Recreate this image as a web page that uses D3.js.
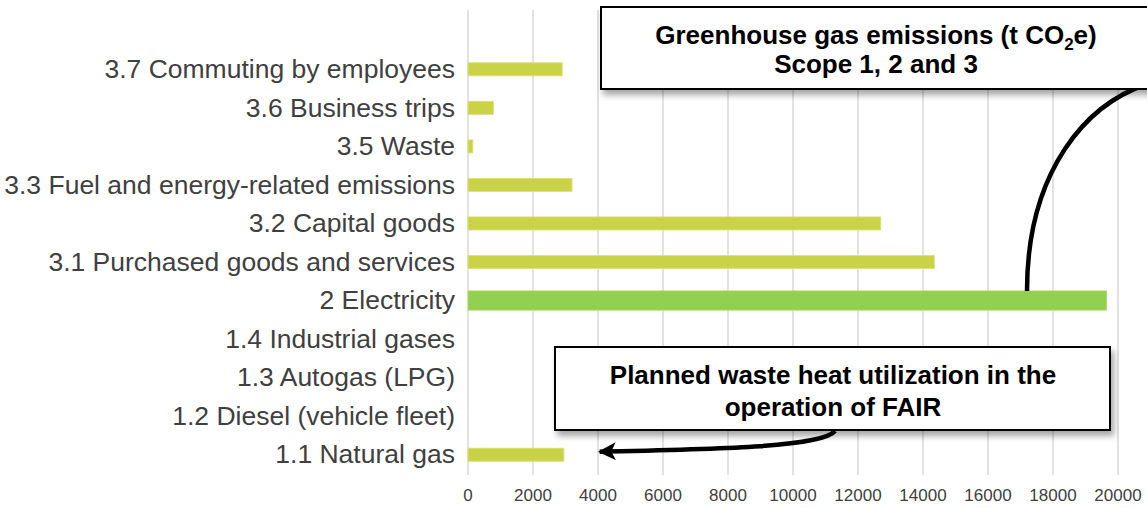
<!DOCTYPE html>
<html>
<head>
<meta charset="utf-8">
<script src="https://cdn.jsdelivr.net/npm/d3@7"></script>
<style>
  html, body { margin: 0; padding: 0; background: #fff; }
  svg { display: block; font-family: "Liberation Sans", Arial, sans-serif; }
</style>
</head>
<body>
<svg id="chart" width="1147" height="508"></svg>
<script>
// categories top to bottom, values in t CO2e
var categories = [
  '3.7 Commuting by employees',
  '3.6 Business trips',
  '3.5 Waste',
  '3.3 Fuel and energy-related emissions',
  '3.2 Capital goods',
  '3.1 Purchased goods and services',
  '2 Electricity',
  '1.4 Industrial gases',
  '1.3 Autogas (LPG)',
  '1.2 Diesel (vehicle fleet)',
  '1.1 Natural gas'
];
var emissions = [2900, 780, 150, 3200, 12700, 14350, 19650, 0, 0, 0, 2950];
var highlighted = ['2 Electricity'];
var xTicks = [0, 2000, 4000, 6000, 8000, 10000, 12000, 14000, 16000, 18000, 20000];

var svg = d3.select('#chart');

var x = d3.scaleLinear().domain([0, 20000]).range([468, 1118]);
var y = d3.scaleBand().domain(categories).range([50, 474])
  .paddingInner(0.5).paddingOuter(0.25);

var defs = svg.append('defs');
var shadow = defs.append('filter').attr('id', 'shadow')
  .attr('x', '-10%').attr('y', '-20%').attr('width', '130%').attr('height', '160%');
shadow.append('feDropShadow')
  .attr('dx', 3).attr('dy', 5).attr('stdDeviation', 3)
  .attr('flood-color', '#000').attr('flood-opacity', 0.35);

defs.append('marker').attr('id', 'head')
  .attr('viewBox', '0 0 10 10').attr('refX', 9).attr('refY', 5)
  .attr('markerWidth', 4).attr('markerHeight', 4).attr('orient', 'auto')
  .append('path').attr('d', 'M0,0 L10,5 L0,10 L2.5,5 Z').attr('fill', '#000');

// grid lines
svg.append('g').selectAll('line').data(xTicks).join('line')
  .attr('x1', function (d) { return x(d); })
  .attr('x2', function (d) { return x(d); })
  .attr('y1', 10).attr('y2', 475)
  .attr('stroke', '#d9d9d9').attr('stroke-width', 1.5);

// x axis labels
svg.append('g').selectAll('text').data(xTicks).join('text')
  .attr('x', function (d) { return x(d); })
  .attr('y', 501)
  .attr('text-anchor', 'middle')
  .attr('font-size', 17)
  .attr('fill', '#404040')
  .text(function (d) { return d; });

// category labels
svg.append('g').selectAll('text').data(categories).join('text')
  .attr('x', 455)
  .attr('y', function (d) { return y(d) + y.bandwidth() / 2; })
  .attr('dy', '0.33em')
  .attr('text-anchor', 'end')
  .attr('font-size', 26.5)
  .attr('fill', '#404040')
  .text(function (d) { return d; });

// bars
function barHeight(d) {
  return highlighted.indexOf(d) >= 0 ? y.bandwidth() : y.bandwidth() * 0.68;
}
svg.append('g').selectAll('rect').data(categories).join('rect')
  .attr('x', x(0))
  .attr('y', function (d) { return y(d) + (y.bandwidth() - barHeight(d)) / 2; })
  .attr('width', function (d, i) { return x(emissions[i]) - x(0); })
  .attr('height', function (d) { return barHeight(d); })
  .attr('fill', function (d) { return highlighted.indexOf(d) >= 0 ? '#92d050' : '#cad246'; })
  .attr('stroke', function (d) { return highlighted.indexOf(d) >= 0 ? '#b5d96a' : '#dbe07a'; })
  .attr('stroke-width', 0.8);

// callout arrows
var eTop = y('2 Electricity');
svg.append('path')
  .attr('d', 'M1170,78 C1080,95 1027,180 ' + x(17200) + ',' + eTop)
  .attr('fill', 'none').attr('stroke', '#000').attr('stroke-width', 4.5);

var gasMid = y('1.1 Natural gas') + y.bandwidth() / 2 - 3;
svg.append('path')
  .attr('d', 'M835,431 C822,447 720,449 ' + x(4050) + ',' + gasMid)
  .attr('fill', 'none').attr('stroke', '#000').attr('stroke-width', 4.5)
  .attr('marker-end', 'url(#head)');

// annotation boxes
function callout(bx, by, bw, bh) {
  var g = svg.append('g');
  g.append('rect').attr('x', bx).attr('y', by).attr('width', bw).attr('height', bh)
    .attr('fill', '#fff').attr('stroke', '#000').attr('stroke-width', 2)
    .attr('filter', 'url(#shadow)');
  return g;
}

function boldLine(g, cx, cy, str) {
  return g.append('text').attr('x', cx).attr('y', cy)
    .attr('text-anchor', 'middle').attr('font-size', 26).attr('font-weight', 'bold')
    .attr('fill', '#000').text(str);
}

var box1 = callout(601, 7, 580, 82);
var t1 = boldLine(box1, 876, 44, null);
t1.append('tspan').text('Greenhouse gas emissions (t CO');
t1.append('tspan').attr('font-size', 17).attr('dy', 6).text('2');
t1.append('tspan').attr('dy', -6).text('e)');
boldLine(box1, 876, 73, 'Scope 1, 2 and 3');

var box2 = callout(555, 347, 555, 83);
boldLine(box2, 833, 384, 'Planned waste heat utilization in the');
boldLine(box2, 833, 416, 'operation of FAIR');
</script>
</body>
</html>
